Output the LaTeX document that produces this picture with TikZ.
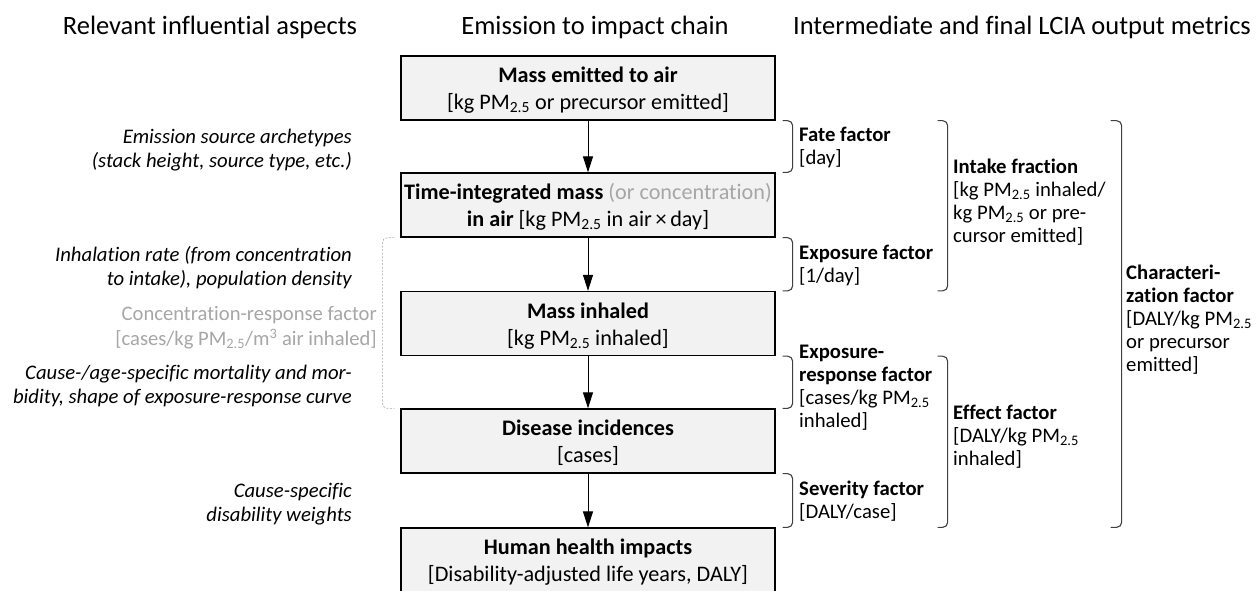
\documentclass[tikz,border=0pt]{standalone}
\usepackage{fontspec}
\setmainfont{Carlito}[Ligatures=NoCommon]
\usetikzlibrary{arrows.meta}
\definecolor{boxfill}{HTML}{F2F2F2}
\definecolor{softgray}{HTML}{A6A6A6}
\definecolor{brkcol}{HTML}{404040}
\newcommand{\ftop}{\rule{0pt}{22pt}}
\newcommand{\fbot}{\rule[-5.6pt]{0pt}{5.6pt}}
\begin{document}
\begin{tikzpicture}[x=1pt,y=-1pt,
  chainbox/.style={draw=black, line width=1.3pt, fill=boxfill, minimum width=374pt, minimum height=64pt, inner sep=0pt, align=center, font=\fontsize{22.2}{27}\selectfont},
  coltitle/.style={inner sep=0pt, font=\fontsize{26.5}{30}\selectfont},
  rtext/.style={anchor=north west, inner sep=0pt, align=left, font=\fontsize{20.7}{23}\selectfont},
  ltext/.style={anchor=north east, inner sep=0pt, align=right, font=\fontsize{20.7}{24}\selectfont\itshape},
  gtext/.style={anchor=north east, inner sep=0pt, align=right, text=softgray, font=\fontsize{20.6}{23.7}\selectfont},
  arr/.style={line width=1pt, -{Triangle[width=10pt,length=16pt]}},
  brk/.style={draw=brkcol, line width=1.1pt, rounded corners=5pt},
  dbrk/.style={draw=softgray, line width=0.6pt, dash pattern=on 2pt off 1.5pt, rounded corners=5pt}]
\useasboundingbox (0,0) rectangle (1258,590);
\clip (0,0) rectangle (1258,590);
% column titles
\node[coltitle] (t1) at (210,27) {Relevant influential aspects};
\node[coltitle] (t2) at (595,27) {Emission to impact chain};
\node[coltitle] (t3) at (1022,27) {Intermediate and final LCIA output metrics};
% chain boxes
\node[chainbox] (b1) at (588,88) {\ftop\textbf{Mass emitted to air}\\{[}kg PM\textsubscript{2.5} or precursor emitted]\fbot};
\node[chainbox] (b2) at (588,205) {\ftop\textbf{Time-integrated mass} \textcolor{softgray}{(or concentration)}\\\textbf{in air} {[}kg PM\textsubscript{2.5} in air\,×\,day]\fbot};
\node[chainbox] (b3) at (588,323.5) {\ftop\textbf{Mass inhaled}\\{[}kg PM\textsubscript{2.5} inhaled]\fbot};
\node[chainbox] (b4) at (588,441) {\ftop\textbf{Disease incidences}\\{[}cases]\fbot};
\node[chainbox] (b5) at (588,560) {\ftop\textbf{Human health impacts}\\{[}Disability-adjusted life years, DALY]\fbot};
\draw[arr] (b1) -- (b2);
\draw[arr] (b2) -- (b3);
\draw[arr] (b3) -- (b4);
\draw[arr] (b4) -- (b5);
% brackets
\draw[brk] ([xshift=7pt]b1.south east) -- ++(10,0) |- ([xshift=7pt]b2.north east);
\draw[brk] ([xshift=7pt]b2.south east) -- ++(10,0) |- ([xshift=7pt]b3.north east);
\draw[brk] ([xshift=7pt]b3.south east) -- ++(10,0) |- ([xshift=7pt]b4.north east);
\draw[brk] ([xshift=7pt]b4.south east) -- ++(10,0) |- ([xshift=7pt]b5.north east);
\draw[brk] ([xshift=162pt]b1.south east) -- ++(10,0) |- ([xshift=162pt]b3.north east);
\draw[brk] ([xshift=162pt]b3.south east) -- ++(10,0) |- ([xshift=162pt]b5.north east);
\draw[brk] ([xshift=335pt]b1.south east) -- ++(11,0) |- ([xshift=335pt]b5.north east);
\draw[dbrk] ([xshift=-6pt]b2.south west) -- ++(-12,0) |- ([xshift=-6pt]b4.north west);
% right texts
\node[rtext] (ff) at (799,125) {\strut\textbf{Fate factor}\\{[}day]};
\node[rtext] (ef) at (799,243) {\strut\textbf{Exposure factor}\\{[}1/day]};
\node[rtext] (erf) at (799,342) {\strut\textbf{Exposure-}\\\textbf{response factor}\\{[}cases/kg PM\textsubscript{2.5}\\inhaled]};
\node[rtext] (sf) at (799,479) {\strut\textbf{Severity factor}\\{[}DALY/case]};
\node[rtext] (if) at (953,157) {\strut\textbf{Intake fraction}\\{[}kg PM\textsubscript{2.5} inhaled/\\kg PM\textsubscript{2.5} or pre-\\cursor emitted]};
\node[rtext] (eff) at (953,403) {\strut\textbf{Effect factor}\\{[}DALY/kg PM\textsubscript{2.5}\\inhaled]};
\node[rtext] (cf) at (1126,263) {\strut\textbf{Characteri-}\\\textbf{zation factor}\\{[}DALY/kg PM\textsubscript{2.5}\\or precursor\\emitted]};
% left texts
\node[ltext] (la) at (352,126) {\strut Emission source archetypes\\(stack height, source type, etc.)};
\node[ltext] (lb) at (352,244) {\strut Inhalation rate (from concentration\\to intake), population density};
\node[gtext] (lc) at (377,304) {\strut Concentration-response factor\\{[}cases/kg PM\textsubscript{2.5}/m\textsuperscript{3} air inhaled]};
\node[ltext] (ld) at (352,362) {\strut Cause-/age-specific mortality and mor-\\bidity, shape of exposure-response curve};
\node[ltext] (le) at (352,480) {\strut Cause-specific\\disability weights};
\end{tikzpicture}
\end{document}
